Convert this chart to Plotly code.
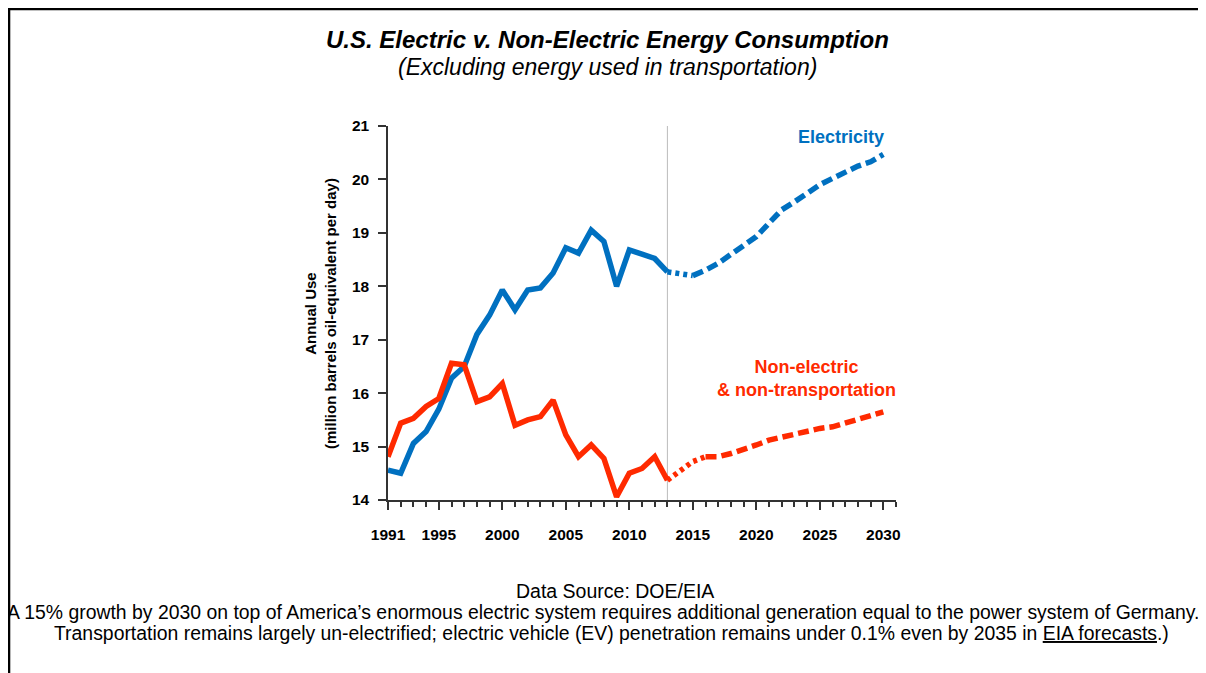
"""
U.S. electric v. non-electric energy consumption, history plus forecast.
"""
import plotly.graph_objects as go

# history (1991-2013) and forecast (2013-2030)
hist_years = [1991, 1992, 1993, 1994, 1995, 1996, 1997, 1998, 1999, 2000,
              2001, 2002, 2003, 2004, 2005, 2006, 2007, 2008, 2009, 2010,
              2011, 2012, 2013]
elec_hist = [14.56, 14.50, 15.06, 15.28, 15.70, 16.28, 16.50, 17.10, 17.46, 17.93,
             17.56, 17.93, 17.97, 18.25, 18.72, 18.62, 19.05, 18.84, 18.00, 18.68,
             18.60, 18.52, 18.27]
nonelec_hist = [14.81, 15.44, 15.53, 15.75, 15.90, 16.56, 16.53, 15.84, 15.93, 16.18,
                15.40, 15.50, 15.56, 15.87, 15.22, 14.81, 15.03, 14.78, 14.06, 14.50,
                14.59, 14.81, 14.37]

proj_years = [2013, 2014, 2015, 2016, 2017, 2018, 2019, 2020, 2021, 2022,
              2023, 2024, 2025, 2026, 2027, 2028, 2029, 2030]
elec_proj = [18.27, 18.24, 18.20, 18.30, 18.43, 18.59, 18.74, 18.93, 19.18, 19.43,
             19.58, 19.74, 19.90, 20.02, 20.14, 20.25, 20.33, 20.47]
nonelec_proj = [14.37, 14.56, 14.72, 14.81, 14.81, 14.87, 14.94, 15.03, 15.12, 15.18,
                15.22, 15.28, 15.34, 15.37, 15.44, 15.50, 15.56, 15.65]

x_tickvals = [1991, 1995, 2000, 2005, 2010, 2015, 2020, 2025, 2030]
y_tickvals = [14, 15, 16, 17, 18, 19, 20, 21]

BLUE = "#0070C0"
RED = "#FF2A00"
FONT = "Arial, Liberation Sans, sans-serif"
LW = 5.5

fig = go.Figure()

# solid history
fig.add_trace(go.Scatter(x=hist_years, y=elec_hist, mode="lines",
                         line=dict(color=BLUE, width=LW)))
fig.add_trace(go.Scatter(x=hist_years, y=nonelec_hist, mode="lines",
                         line=dict(color=RED, width=LW)))

# forecast: dotted start, dashed after
fig.add_trace(go.Scatter(x=proj_years[:3], y=elec_proj[:3], mode="lines",
                         line=dict(color=BLUE, width=LW, dash="4px,4px")))
fig.add_trace(go.Scatter(x=proj_years[2:], y=elec_proj[2:], mode="lines",
                         line=dict(color=BLUE, width=LW, dash="11px,5px")))
fig.add_trace(go.Scatter(x=proj_years[:4], y=nonelec_proj[:4], mode="lines",
                         line=dict(color=RED, width=LW, dash="4px,4px")))
fig.add_trace(go.Scatter(x=proj_years[3:], y=nonelec_proj[3:], mode="lines",
                         line=dict(color=RED, width=LW, dash="11px,5px")))

# divider between history and forecast
fig.add_vline(x=2013, line=dict(color="#BBBBBB", width=1), layer="below")

# frame lines (top and left only)
fig.add_shape(type="line", xref="paper", yref="paper",
              x0=-0.75, x1=1.63, y0=1.313, y1=1.313,
              line=dict(color="black", width=2.5))
fig.add_shape(type="line", xref="paper", yref="paper",
              x0=-0.746, x1=-0.746, y0=1.316, y1=-0.49,
              line=dict(color="black", width=2.5))

annos = [
    dict(text="<b><i>U.S. Electric v. Non-Electric Energy Consumption</i></b>",
         x=(607 - 388) / 508, y=(500 - 40) / 374, font=dict(size=24)),
    dict(text="<i>(Excluding energy used in transportation)</i>",
         x=(607 - 388) / 508, y=(500 - 67) / 374, font=dict(size=23)),
    dict(text="<b>Annual Use<br>(million barrels oil-equivalent per day)</b>",
         x=(320 - 388) / 508, y=(500 - 314) / 374, textangle=-90,
         font=dict(size=15)),
    dict(text="<b>Electricity</b>", x=(841 - 388) / 508, y=(500 - 137) / 374,
         font=dict(size=18, color=BLUE)),
    dict(text="<b>Non-electric<br>& non-transportation</b>",
         x=(806 - 388) / 508, y=(500 - 378) / 374,
         font=dict(size=18, color=RED)),
    dict(text="Data Source: DOE/EIA", x=(615 - 388) / 508,
         y=(500 - 591) / 374, font=dict(size=19.5)),
    dict(text="A 15% growth by 2030 on top of America’s enormous electric system "
              "requires additional generation equal to the power system of Germany.",
         x=(603 - 388) / 508, y=(500 - 612) / 374, font=dict(size=19.4)),
    dict(text="Transportation remains largely un-electrified; electric vehicle (EV) "
              "penetration remains under 0.1% even by 2035 in <u>EIA forecasts</u>.)",
         x=(611 - 388) / 508, y=(500 - 633) / 374, font=dict(size=19.4)),
]
for a in annos:
    fig.add_annotation(xref="paper", yref="paper", showarrow=False,
                       xanchor="center", yanchor="middle", **a)

fig.update_xaxes(
    range=[1991, 2031], tickvals=x_tickvals, ticks="outside", ticklen=8,
    tickwidth=1.5, tickcolor="#333333", showline=True, linecolor="#333333",
    linewidth=1.5, showgrid=False, zeroline=False, ticklabelstandoff=12,
    tickfont=dict(size=15.5, color="black", family=FONT, weight="bold"),
    minor=dict(dtick=1, tick0=1991, ticks="outside", ticklen=5, tickwidth=1.5,
               tickcolor="#333333", showgrid=False),
)
fig.update_yaxes(
    range=[14, 21], tickvals=y_tickvals, ticks="outside", ticklen=8,
    tickwidth=1.5, tickcolor="#333333", showline=True, linecolor="#333333",
    linewidth=1.5, showgrid=False, zeroline=False, ticklabelstandoff=6,
    tickfont=dict(size=15.5, color="black", family=FONT, weight="bold"),
)

# page body adds 8px, so margins are 8px smaller than the target positions
fig.update_layout(
    width=1206, height=673,
    margin=dict(l=380, r=318, t=118, b=181),
    paper_bgcolor="white", plot_bgcolor="white",
    showlegend=False,
    font=dict(family=FONT, color="black"),
)

fig.write_html("out.html")
